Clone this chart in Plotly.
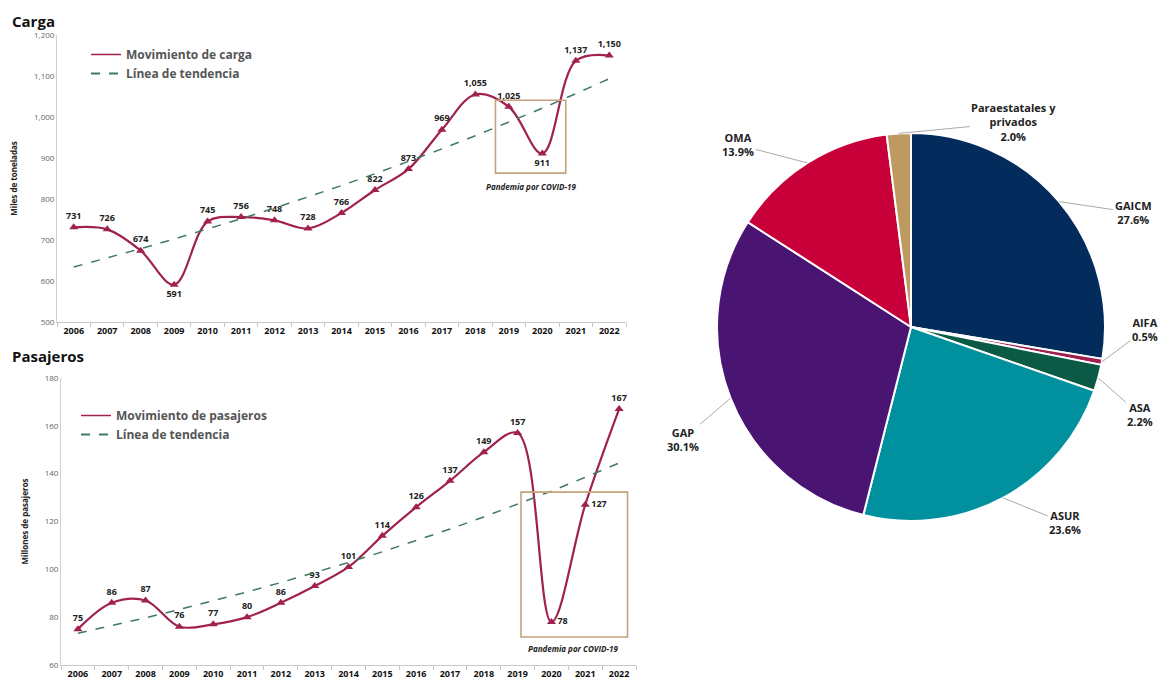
import numpy as np
import plotly.graph_objects as go

# ---------------- data ----------------
years = list(range(2006, 2023))
carga = [731, 726, 674, 591, 745, 756, 748, 728, 766, 822, 873, 969, 1055, 1025, 911, 1137, 1150]
pasajeros = [75, 86, 87, 76, 77, 80, 86, 93, 101, 114, 126, 137, 149, 157, 78, 127, 167]

pie_labels = ["GAICM", "AIFA", "ASA", "ASUR", "GAP", "OMA", "Paraestatales y<br>privados"]
pie_values = [27.6, 0.5, 2.2, 23.6, 30.1, 13.9, 2.0]
pie_colors = ["#032B5B", "#A0214F", "#0B5A45", "#00909E", "#4A1473", "#C8003A", "#BF9A60"]

carga_label_pos = {2009: "bottom center", 2020: "bottom center"}
pas_label_pos = {2020: "middle right", 2021: "middle right"}

# page body has an 8px default margin -> figure is drawn at (8, 8)
OFF = 8
W, H = 1169 - OFF, 685 - OFF
LINE = "#A0214F"
TREND = "#3F7A62"
BOX = "#C4A27C"
FONT = "Open Sans"


def px(x):
    return (x - OFF) / W


def py(y):
    return 1 - (y - OFF) / H


def exp_trend(y):
    x = np.arange(len(y))
    b, a = np.polyfit(x, np.log(y), 1)
    return list(np.exp(a + b * x))


fig = go.Figure()

# ---------------- Carga ----------------
fig.add_trace(go.Scatter(
    x=years, y=carga, mode="lines+markers+text", xaxis="x", yaxis="y",
    line=dict(color=LINE, width=2.2, shape="spline", smoothing=1.0),
    marker=dict(symbol="triangle-up", size=8, color=LINE),
    text=[f"{v:,}" for v in carga],
    textposition=[carga_label_pos.get(yv, "top center") for yv in years],
    textfont=dict(family=FONT, size=9, color="#222", weight="bold"),
    showlegend=False, hoverinfo="skip", cliponaxis=False))
fig.add_trace(go.Scatter(
    x=years, y=exp_trend(carga), mode="lines", xaxis="x", yaxis="y",
    line=dict(color=TREND, width=1.5, dash="dash"), showlegend=False, hoverinfo="skip"))
fig.add_trace(go.Scatter(x=[None], y=[None], mode="lines", xaxis="x", yaxis="y",
                         line=dict(color=LINE, width=1.5), name="Movimiento de carga", legend="legend"))
fig.add_trace(go.Scatter(x=[None], y=[None], mode="lines", xaxis="x", yaxis="y",
                         line=dict(color=TREND, width=2, dash="dash"), name="Línea de tendencia", legend="legend"))

# ---------------- Pasajeros ----------------
fig.add_trace(go.Scatter(
    x=years, y=pasajeros, mode="lines+markers+text", xaxis="x2", yaxis="y2",
    line=dict(color=LINE, width=2.2, shape="spline", smoothing=1.0),
    marker=dict(symbol="triangle-up", size=8, color=LINE),
    text=[f"{v:,}" for v in pasajeros],
    textposition=[pas_label_pos.get(yv, "top center") for yv in years],
    textfont=dict(family=FONT, size=9, color="#222", weight="bold"),
    showlegend=False, hoverinfo="skip", cliponaxis=False))
fig.add_trace(go.Scatter(
    x=years, y=exp_trend(pasajeros), mode="lines", xaxis="x2", yaxis="y2",
    line=dict(color=TREND, width=1.5, dash="dash"), showlegend=False, hoverinfo="skip"))
fig.add_trace(go.Scatter(x=[None], y=[None], mode="lines", xaxis="x2", yaxis="y2",
                         line=dict(color=LINE, width=1.5), name="Movimiento de pasajeros", legend="legend2"))
fig.add_trace(go.Scatter(x=[None], y=[None], mode="lines", xaxis="x2", yaxis="y2",
                         line=dict(color=TREND, width=2, dash="dash"), name="Línea de tendencia", legend="legend2"))

# ---------------- Pie ----------------
PCX, PCY, PR = 911, 327, 194
pie_dom_x = [px(PCX - PR), px(PCX + PR)]
pie_dom_y = [py(PCY + PR), py(PCY - PR)]
fig.add_trace(go.Pie(
    labels=pie_labels, values=pie_values, sort=False, direction="clockwise", rotation=0,
    marker=dict(colors=pie_colors, line=dict(color="white", width=2)),
    textinfo="none", hoverinfo="skip", showlegend=False,
    domain=dict(x=pie_dom_x, y=pie_dom_y)))

# pie label annotations with leader lines, from slice mid-angles
label_offsets = [(74, 11), (43, -32), (42, 37), (62, 25), (-48, 41), (-69, -18), (115, -11)]
total = sum(pie_values)
cum = 0.0
annotations = []
for lab, val, (ox, oy) in zip(pie_labels, pie_values, label_offsets):
    mid = (cum + val / 2) / total * 2 * np.pi
    cum += val
    ex = px(PCX + PR * np.sin(mid))
    ey = py(PCY - PR * np.cos(mid))
    annotations.append(dict(
        x=ex, y=ey, xref="paper", yref="paper", ax=ox, ay=oy,
        text=f"<b>{lab}<br>{val:.1f}%</b>", showarrow=True, arrowhead=0,
        arrowwidth=1, arrowcolor="#AAAAAA", font=dict(family=FONT, size=11, color="#222"),
        align="center"))

# titles
annotations += [
    dict(x=px(10), y=py(8.5), xref="paper", yref="paper", text="<b>Carga</b>", showarrow=False,
         xanchor="left", yanchor="top", font=dict(family=FONT, size=15, color="#111")),
    dict(x=px(10), y=py(356), xref="paper", yref="paper", text="<b>Pasajeros</b>", showarrow=False,
         xanchor="left", yanchor="middle", font=dict(family=FONT, size=15, color="#111")),
    dict(x=2019.65, y=831, xref="x", yref="y", text="<b><i>Pandemia por COVID-19</i></b>", showarrow=False,
         font=dict(family=FONT, size=8, color="#222")),
    dict(x=2020.65, y=67, xref="x2", yref="y2", text="<b><i>Pandemia por COVID-19</i></b>", showarrow=False,
         font=dict(family=FONT, size=8, color="#222")),
]

shapes = [
    dict(type="rect", xref="x", yref="y", x0=2018.6, x1=2020.7, y0=863, y1=1041,
         line=dict(color=BOX, width=1.6)),
    dict(type="rect", xref="x2", yref="y2", x0=2019.1, x1=2022.25, y0=71.7, y1=132.3,
         line=dict(color=BOX, width=1.6)),
]

xaxis_common = dict(
    range=[2005.5, 2022.5], tickvals=years, ticktext=[str(y) for y in years], ticks="",
    showline=True, linecolor="#C8C8C8", linewidth=1, showgrid=False, zeroline=False,
    automargin=False,
    tickfont=dict(family=FONT, size=9, color="#111", weight="bold"),
    minor=dict(tick0=2005.5, dtick=1, ticks="outside", ticklen=4, tickcolor="#C8C8C8", showgrid=False),
)
yaxis_common = dict(
    showline=True, linecolor="#D0D0D0", linewidth=1, showgrid=False, zeroline=False,
    automargin=False,
    ticks="", tickfont=dict(family=FONT, size=8, color="#666"), tickformat=",",
)

fig.update_layout(
    width=W, height=H, margin=dict(l=0, r=0, t=0, b=0, autoexpand=False),
    paper_bgcolor="white", plot_bgcolor="white",
    font=dict(family=FONT),
    xaxis=dict(domain=[px(57), px(626)], anchor="y", **xaxis_common),
    yaxis=dict(domain=[py(322), py(35)], anchor="x", range=[500, 1200], dtick=100,
               title=dict(text="<b>Miles de toneladas</b>", font=dict(size=8, color="#222"), standoff=15),
               **yaxis_common),
    xaxis2=dict(domain=[px(61), px(636)], anchor="y2", **xaxis_common),
    yaxis2=dict(domain=[py(665), py(378)], anchor="x2", range=[60, 180], dtick=20,
                title=dict(text="<b>Millones de pasajeros</b>", font=dict(size=8, color="#222"), standoff=14),
                **yaxis_common),
    legend=dict(x=px(86), y=py(40), xanchor="left", yanchor="top", bgcolor="rgba(0,0,0,0)",
                font=dict(family=FONT, size=12, color="#555", weight="bold"), tracegroupgap=0,
                itemwidth=30),
    legend2=dict(x=px(76), y=py(401), xanchor="left", yanchor="top", bgcolor="rgba(0,0,0,0)",
                 font=dict(family=FONT, size=12, color="#555", weight="bold"), tracegroupgap=0,
                 itemwidth=30),
    annotations=annotations, shapes=shapes,
)

fig.write_html("out.html")
